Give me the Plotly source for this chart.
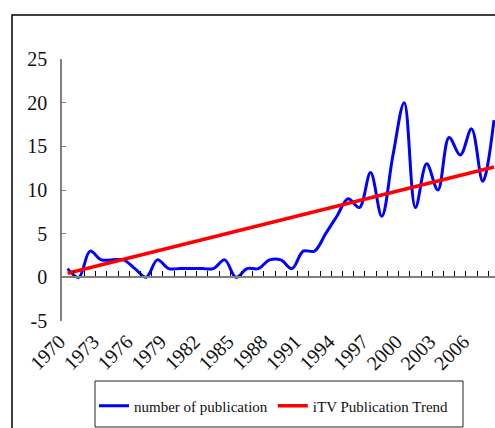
import plotly.graph_objects as go

# ---- data ----
years = list(range(1970, 2009))
publications = [1, 0, 3, 2, 2, 2, 1, 0, 2, 1,
                1, 1, 1, 1, 2, 0, 1, 1, 2, 2,
                1, 3, 3, 5, 7, 9, 8, 12, 7, 14,
                20, 8, 13, 10, 16, 14, 17, 11, 18]
trend_years = [1970, 2008]
trend_values = [0.46, 12.64]
label_years = list(range(1970, 2007, 3))
label_text = [str(y) for y in label_years]
y_ticks = [-5, 0, 5, 10, 15, 20, 25]
y_text = ["-5", "0", "5", "10", "15", "20", "25"]

# ---- layout constants (pixels) ----
W, H = 495, 428
ML, MR, MT, MB = 62, 0, 59, 107
PW, PH = W - ML - MR, H - MT - MB


def px(xp):
    return (xp - ML) / PW


def py(yp):
    return (H - MB - yp) / PH


FONT = "Liberation Serif"

fig = go.Figure()
# invisible copy on the zero-crossing axis so that axis gets drawn
fig.add_trace(go.Scatter(
    x=years, y=publications, mode="lines", xaxis="x2",
    line=dict(color="rgba(0,0,0,0)", width=0), showlegend=False,
    hoverinfo="skip",
))
fig.add_trace(go.Scatter(
    x=years, y=publications, mode="lines", name="number of publication",
    line=dict(color="#0000FF", width=3, shape="spline", smoothing=1.0),
))
fig.add_trace(go.Scatter(
    x=trend_years, y=trend_values, mode="lines", name="iTV Publication Trend",
    line=dict(color="#FF0000", width=3.5),
))

xr = [1969.5, 1969.5 + PW / 11.22]

fig.update_layout(
    width=W, height=H,
    margin=dict(l=ML, r=MR, t=MT, b=MB, pad=0, autoexpand=False),
    paper_bgcolor="white", plot_bgcolor="white",
    font=dict(family=FONT, color="#111111"),
    showlegend=True,
    legend=dict(orientation="h", x=px(94), xanchor="left",
                y=py(406), yanchor="middle",
                font=dict(family=FONT, size=15, color="#111111"),
                itemwidth=30, bgcolor="rgba(0,0,0,0)", borderwidth=0),
    xaxis=dict(range=xr, showline=False, showgrid=False, zeroline=False,
               automargin=False,
               tickmode="array", tickvals=label_years, ticktext=label_text,
               tickangle=-45, ticks="", ticklabelstandoff=4,
               ticklabelshift=-8,
               tickfont=dict(family=FONT, size=20, color="#111111")),
    xaxis2=dict(range=xr, overlaying="x", anchor="free",
                position=5 / 30, side="bottom", automargin=False,
                showline=True, linecolor="#808080", linewidth=2,
                showgrid=False, zeroline=False, showticklabels=False,
                tickmode="linear", tick0=1969.5, dtick=1,
                ticks="inside", ticklen=5, tickwidth=1, tickcolor="#000000"),
    yaxis=dict(range=[-5, 25], tickmode="array", tickvals=y_ticks,
               ticktext=y_text, automargin=False,
               showline=True, linecolor="#808080", linewidth=1.5,
               showgrid=False, zeroline=False,
               ticks="inside", ticklen=4, tickcolor="#808080",
               ticklabelstandoff=9,
               tickfont=dict(family=FONT, size=20, color="#111111")),
    shapes=[
        dict(type="rect", xref="paper", yref="paper",
             x0=px(12), x1=px(W + 20), y0=py(15), y1=py(H + 20),
             line=dict(color="#000000", width=1.5), fillcolor="rgba(0,0,0,0)",
             layer="below"),
        dict(type="rect", xref="paper", yref="paper",
             x0=px(95), x1=px(463), y0=py(381), y1=py(427),
             line=dict(color="#222222", width=1), fillcolor="rgba(0,0,0,0)",
             layer="below"),
    ],
)

fig.write_html(
    "out.html",
    config={"displayModeBar": False},
    post_script="document.body.style.margin='0';document.body.style.overflow='hidden';",
)
